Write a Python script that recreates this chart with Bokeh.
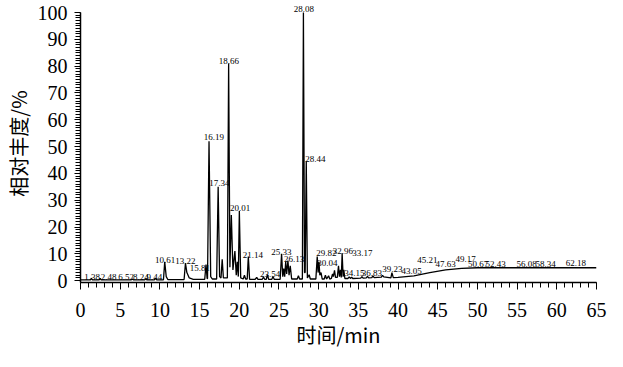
from bokeh.plotting import figure
from bokeh.models import Range1d, SingleIntervalTicker, ColumnDataSource
from bokeh.core.properties import value
from bokeh.embed import file_html
from bokeh.resources import INLINE

# chromatogram trace (time in min, relative abundance in %)
trace_time = [0.0, 1.25, 1.38, 1.5, 2.35, 2.48, 2.6, 6.4, 6.52, 6.65, 8.1, 8.24, 8.35, 9.3, 9.44, 9.6,
              10.45, 10.61, 10.8, 11.0, 13.05, 13.22, 13.4, 13.7, 14.2, 15.65, 15.81, 15.95, 16.0, 16.19,
              16.4, 16.6, 17.15, 17.34, 17.52, 17.7, 17.85, 18.0, 18.5, 18.66, 18.82, 19.0, 19.2, 19.45,
              19.62, 19.75, 19.88, 20.01, 20.18, 20.5, 20.65, 20.8, 21.0, 21.14, 21.3, 22.0, 22.2, 22.35,
              22.9, 23.05, 23.2, 23.4, 23.54, 23.7, 24.1, 24.25, 24.4, 25.15, 25.33, 25.48, 25.6, 25.72,
              25.85, 25.97, 26.13, 26.27, 26.42, 26.6, 27.3, 27.45, 27.6, 27.95, 28.08, 28.22, 28.3, 28.44,
              28.58, 28.8, 28.95, 29.65, 29.82, 29.93, 30.04, 30.15, 30.3, 30.45, 30.7, 30.85, 31.0, 31.25,
              31.4, 31.6, 31.75, 31.85, 32.0, 32.12, 32.35, 32.5, 32.62, 32.75, 32.85, 32.96, 33.08, 33.17,
              33.3, 33.7, 33.85, 34.0, 34.15, 34.3, 35.3, 35.45, 35.6, 36.0, 36.15, 36.3, 36.7, 36.83, 37.0,
              37.9, 38.05, 38.2, 39.1, 39.23, 39.4, 40.0, 42.0, 44.0, 46.0, 48.0, 50.0, 65.0]
trace_value = [0.3, 0.3, 0.9, 0.3, 0.3, 0.8, 0.3, 0.3, 0.6, 0.3, 0.3, 0.7, 0.3, 0.3, 0.9, 0.3,
               0.3, 7.0, 1.5, 0.4, 0.4, 6.5, 3.0, 1.0, 0.5, 0.5, 6.0, 0.8, 0.8, 52.0,
               1.5, 0.6, 0.6, 35.0, 1.5, 1.0, 8.0, 1.0, 1.0, 81.0, 5.0, 24.5, 4.0, 11.0,
               2.0, 7.0, 1.5, 26.0, 1.0, 0.6, 2.0, 0.6, 0.6, 9.0, 0.5, 0.5, 1.2, 0.5,
               0.5, 1.3, 0.5, 0.5, 2.2, 0.5, 0.5, 1.5, 0.5, 0.5, 10.0, 1.5, 4.5, 1.5,
               7.0, 2.5, 7.5, 2.0, 5.5, 0.6, 0.6, 1.8, 0.6, 0.6, 100.0, 3.0, 3.0, 44.5,
               1.0, 2.2, 0.6, 0.6, 9.0, 3.0, 7.0, 2.0, 3.0, 0.6, 0.6, 2.0, 0.6, 1.8,
               0.6, 0.8, 2.5, 1.5, 3.8, 1.2, 1.2, 5.5, 1.5, 4.0, 1.2, 10.2, 1.5, 4.0,
               0.8, 0.8, 1.4, 0.8, 1.3, 0.8, 0.9, 1.5, 0.9, 1.0, 1.6, 1.0, 1.1, 1.8, 1.1,
               1.3, 2.0, 1.4, 1.0, 3.0, 1.1, 1.2, 1.8, 3.0, 4.0, 4.6, 4.8, 4.8]

# peak labels (text, label position)
peak_labels = ["1.38", "2.48", "6.52", "8.24", "9.44", "10.61", "13.22", "15.81", "16.19", "17.34",
               "18.66", "20.01", "21.14", "23.54", "25.33", "26.13", "28.08", "28.44", "29.82", "30.04",
               "32.96", "33.17", "34.15", "36.83", "39.23", "43.05", "45.21", "47.63", "49.17", "50.67",
               "52.43", "56.08", "58.34", "62.18"]
label_x = [1.47, 3.55, 5.75, 7.6, 9.3, 10.65, 13.2, 15.05, 16.8, 17.5,
           18.7, 20.1, 21.7, 23.9, 25.3, 26.9, 28.15, 29.6, 30.97, 31.1,
           33.05, 35.5, 34.5, 36.7, 39.3, 41.7, 43.7, 46.0, 48.5, 50.1,
           52.3, 56.2, 58.6, 62.4]
label_y = [1.3, 1.3, 1.3, 1.3, 1.3, 7.7, 7.3, 4.8, 53.5, 36.3,
           82.0, 27.1, 9.5, 2.6, 10.6, 8.1, 101.3, 45.4, 10.3, 6.6,
           11.0, 10.3, 2.9, 2.9, 4.4, 3.7, 7.7, 6.2, 8.1, 6.2,
           6.2, 6.2, 6.2, 6.4]

x_label = "时间/min"
y_label = "相对丰度/%"

SERIF = "'Liberation Serif', serif"
CJK = "'Noto Sans CJK SC', sans-serif"

p = figure(width=607, height=351, output_backend="svg", toolbar_location=None,
           x_range=Range1d(0, 65), y_range=Range1d(-0.7, 103),
           min_border_left=78, min_border_right=11, min_border_top=4, min_border_bottom=0,
           background_fill_color="white", border_fill_color="white")
p.outline_line_color = None
p.grid.visible = False

p.line(trace_time, trace_value, line_color="black", line_width=1.3)

src = ColumnDataSource(dict(x=label_x, y=label_y, t=peak_labels))
p.text(x="x", y="y", text="t", source=src, text_font=value(SERIF),
       text_font_size="9px", text_align="center", text_baseline="middle", text_color="black")

p.xaxis.ticker = SingleIntervalTicker(interval=5, num_minor_ticks=5)
p.yaxis.ticker = SingleIntervalTicker(interval=10, num_minor_ticks=10)
p.yaxis.bounds = (-0.7, 100)
for ax in (p.xaxis[0], p.yaxis[0]):
    ax.axis_line_color = "black"
    ax.axis_line_width = 1.5
    ax.major_tick_line_color = "black"
    ax.minor_tick_line_color = "black"
    ax.major_tick_in = 0
    ax.minor_tick_in = 0
    ax.major_label_text_font = SERIF
    ax.major_label_text_font_size = "20px"
    ax.major_label_text_color = "black"
    ax.axis_label_text_font = CJK
    ax.axis_label_text_font_size = "20px"
    ax.axis_label_text_font_style = "normal"
    ax.axis_label_text_color = "black"

p.xaxis.major_tick_out = 7
p.xaxis.minor_tick_out = 5
p.xaxis.major_label_standoff = 13
p.xaxis.axis_label = x_label
p.xaxis.axis_label_standoff = 0

p.yaxis.major_tick_out = 6
p.yaxis.minor_tick_out = 5
p.yaxis.major_label_standoff = 7
p.yaxis.axis_label = y_label
p.yaxis.axis_label_standoff = 2

open("out.html", "w").write(file_html(p, INLINE))
